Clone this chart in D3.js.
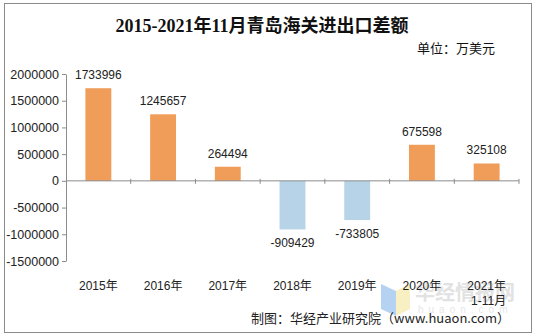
<!DOCTYPE html>
<html>
<head>
<meta charset="utf-8">
<script src="https://cdn.jsdelivr.net/npm/d3@7"></script>
<style>
  html, body { margin: 0; padding: 0; background: #fff; }
  svg { display: block; }
  text { font-family: "Liberation Sans", Arial, "Noto Sans CJK SC", sans-serif; }
</style>
</head>
<body>
<svg id="chart" width="535" height="336"></svg>
<script>
// Qingdao customs: import/export balance, 2015–2021 (Jan–Nov), unit: 10k USD
const categories = ["2015年", "2016年", "2017年", "2018年", "2019年", "2020年", "2021年\n1-11月"];
const values = [1733996, 1245657, 264494, -909429, -733805, 675598, 325108];
const yTicks = [2000000, 1500000, 1000000, 500000, 0, -500000, -1000000, -1500000];

const titleText = "2015-2021年11月青岛海关进出口差额";
const unitText = "单位：万美元";
const sourceText = "制图：华经产业研究院（www.huaon.com）";

const svg = d3.select("#chart");

// outer frame
svg.append("rect")
  .attr("x", 4.5).attr("y", 3.5).attr("width", 527).attr("height", 329)
  .attr("fill", "#fff").attr("stroke", "#8a8a8a").attr("stroke-width", 1);

// title and unit
svg.append("text")
  .attr("x", 262).attr("y", 32)
  .attr("text-anchor", "middle")
  .style("font-family", "'Liberation Serif', 'Noto Sans CJK SC', serif")
  .style("font-weight", "bold")
  .style("font-size", "18px")
  .attr("fill", "#111")
  .text(titleText);

svg.append("text")
  .attr("x", 495).attr("y", 53)
  .attr("text-anchor", "end")
  .style("font-family", "'Noto Sans CJK SC', sans-serif")
  .style("font-size", "13px")
  .attr("fill", "#111")
  .text(unitText);

// scales
const y = d3.scaleLinear().domain([-1500000, 2000000]).range([261, 74]);
const x = d3.scaleBand().domain(categories).range([66, 519])
  .paddingInner(0.6).paddingOuter(0.3);

const axisColor = "#8c8c8c";

// y axis
const yAxis = svg.append("g")
  .attr("transform", "translate(66,0)")
  .call(d3.axisLeft(y).tickValues(yTicks).tickSize(4).tickSizeOuter(0)
    .tickFormat(d => String(d)));
yAxis.select(".domain").attr("stroke", axisColor);
yAxis.selectAll(".tick line").attr("stroke", axisColor);
yAxis.selectAll(".tick text")
  .attr("x", -7)
  .style("font-size", "12.5px")
  .style("font-family", "'Liberation Sans', Arial, sans-serif")
  .attr("fill", "#222");

// bars
const orange = "#f09d5a";
const blue = "#b6d3e7";
svg.append("g").selectAll("rect")
  .data(values)
  .join("rect")
  .attr("x", (d, i) => x(categories[i]))
  .attr("width", x.bandwidth())
  .attr("y", d => y(Math.max(0, d)))
  .attr("height", d => Math.abs(y(d) - y(0)))
  .attr("fill", d => d >= 0 ? orange : blue);

// x axis line along zero with crossing ticks at band boundaries
const x0 = x.range()[0], step = x.step();
const zeroY = y(0);
svg.append("line")
  .attr("x1", x0).attr("x2", x.range()[1])
  .attr("y1", zeroY).attr("y2", zeroY)
  .attr("stroke", axisColor);
svg.append("g").selectAll("line")
  .data(d3.range(1, categories.length + 1))
  .join("line")
  .attr("x1", i => x0 + i * step).attr("x2", i => x0 + i * step)
  .attr("y1", zeroY - 2).attr("y2", zeroY + 3)
  .attr("stroke", axisColor);

// value labels
svg.append("g").selectAll("text")
  .data(values)
  .join("text")
  .attr("x", (d, i) => x(categories[i]) + x.bandwidth() / 2)
  .attr("y", d => d >= 0 ? y(d) - 9 : y(d) + 18)
  .attr("text-anchor", "middle")
  .style("font-size", "12px")
  .attr("fill", "#222")
  .text(d => String(d));

// watermark
const wm = svg.append("g").attr("opacity", 0.75);
wm.append("path")
  .attr("d", "M381,284 L396,291 L396,316 L381,309 Z")
  .attr("fill", "#9ec3f0");
wm.append("path")
  .attr("d", "M396,291 L410,284 L410,309 L396,316 Z")
  .attr("fill", "#f6eab0");
wm.append("text")
  .attr("x", 415).attr("y", 300)
  .style("font-family", "'Noto Sans CJK SC', sans-serif")
  .style("font-size", "20px").style("font-weight", "bold")
  .attr("fill", "#d9d9d9")
  .text("华经情报网");
wm.append("text")
  .attr("x", 418).attr("y", 313)
  .style("font-size", "10px")
  .style("letter-spacing", "5px")
  .attr("fill", "#dedede")
  .text("huaon.com");

// category labels (multi-line where needed)
const catG = svg.append("g");
categories.forEach(c => {
  const t = catG.append("text")
    .attr("x", x(c) + x.bandwidth() / 2)
    .attr("y", 290)
    .attr("text-anchor", "middle")
    .style("font-size", "12px")
    .style("font-family", "'Liberation Sans', 'Noto Sans CJK SC', sans-serif")
    .attr("fill", "#222");
  c.split("\n").forEach((line, k) => {
    t.append("tspan")
      .attr("x", x(c) + x.bandwidth() / 2 + (k > 0 ? 2 : 0))
      .attr("dy", k === 0 ? 0 : 15)
      .text(line);
  });
});

// source note
svg.append("text")
  .attr("x", 510).attr("y", 323)
  .attr("text-anchor", "end")
  .style("font-family", "'Noto Sans CJK SC', sans-serif")
  .style("font-size", "13px")
  .attr("fill", "#222")
  .text(sourceText);
</script>
</body>
</html>
